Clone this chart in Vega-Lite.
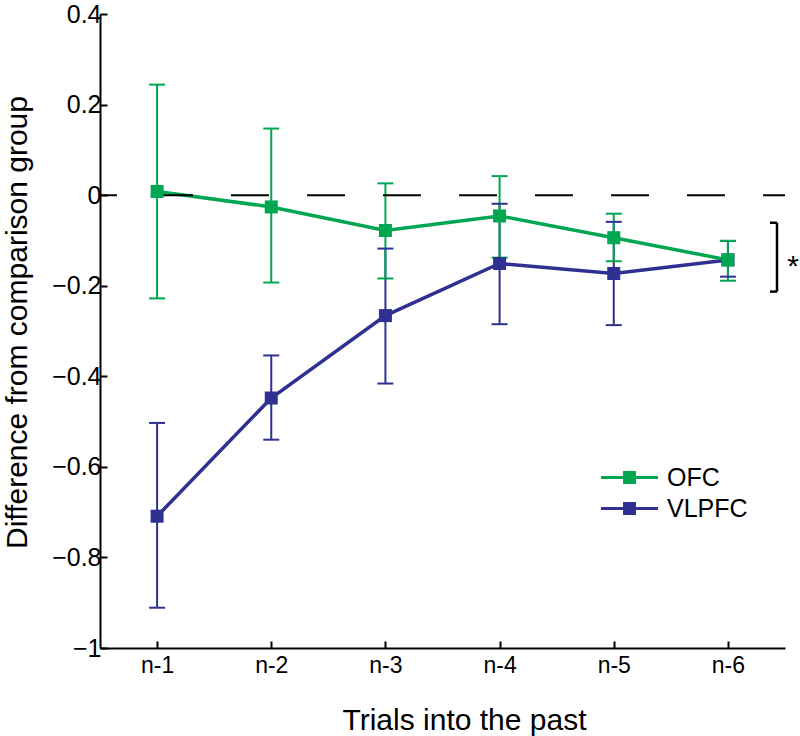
{
  "$schema": "https://vega.github.io/schema/vega-lite/v6.json",
  "width": 685,
  "height": 634,
  "autosize": "none",
  "padding": {"left": 100, "top": 14, "right": 15, "bottom": 88},
  "background": "white",
  "config": {"view": {"stroke": null}, "font": "Liberation Sans"},
  "datasets": {
    "series": [
      {"trial": 1, "group": "VLPFC", "mean": -0.709, "lo": -0.911, "hi": -0.503},
      {"trial": 2, "group": "VLPFC", "mean": -0.448, "lo": -0.540, "hi": -0.354},
      {"trial": 3, "group": "VLPFC", "mean": -0.266, "lo": -0.416, "hi": -0.118},
      {"trial": 4, "group": "VLPFC", "mean": -0.151, "lo": -0.285, "hi": -0.019},
      {"trial": 5, "group": "VLPFC", "mean": -0.173, "lo": -0.287, "hi": -0.059},
      {"trial": 6, "group": "VLPFC", "mean": -0.143, "lo": -0.180, "hi": -0.101},
      {"trial": 1, "group": "OFC", "mean": 0.008, "lo": -0.228, "hi": 0.244},
      {"trial": 2, "group": "OFC", "mean": -0.026, "lo": -0.193, "hi": 0.147},
      {"trial": 3, "group": "OFC", "mean": -0.078, "lo": -0.184, "hi": 0.026},
      {"trial": 4, "group": "OFC", "mean": -0.046, "lo": -0.138, "hi": 0.042},
      {"trial": 5, "group": "OFC", "mean": -0.094, "lo": -0.146, "hi": -0.041},
      {"trial": 6, "group": "OFC", "mean": -0.143, "lo": -0.189, "hi": -0.101}
    ],
    "bracket": [
      {"x": 6.43, "x2": 6.43, "y": -0.061, "y2": -0.213},
      {"x": 6.368, "x2": 6.43, "y": -0.061, "y2": -0.061},
      {"x": 6.368, "x2": 6.43, "y": -0.213, "y2": -0.213}
    ],
    "star": [{"x": 6.57, "y": -0.149, "label": "*"}]
  },
  "layer": [
    {
      "data": {"name": "series"},
      "mark": {"type": "rule", "strokeWidth": 2},
      "encoding": {
        "x": {"field": "trial", "type": "quantitative"},
        "y": {"field": "lo", "type": "quantitative"},
        "y2": {"field": "hi"},
        "color": {"field": "group", "type": "nominal"}
      }
    },
    {
      "data": {"name": "series"},
      "mark": {"type": "tick", "orient": "horizontal", "size": 16, "thickness": 2, "opacity": 1},
      "encoding": {
        "x": {"field": "trial", "type": "quantitative"},
        "y": {"field": "lo", "type": "quantitative"},
        "color": {"field": "group", "type": "nominal"}
      }
    },
    {
      "data": {"name": "series"},
      "mark": {"type": "tick", "orient": "horizontal", "size": 16, "thickness": 2, "opacity": 1},
      "encoding": {
        "x": {"field": "trial", "type": "quantitative"},
        "y": {"field": "hi", "type": "quantitative"},
        "color": {"field": "group", "type": "nominal"}
      }
    },
    {
      "data": {"name": "series"},
      "mark": {"type": "line", "strokeWidth": 3.5},
      "encoding": {
        "x": {"field": "trial", "type": "quantitative"},
        "y": {"field": "mean", "type": "quantitative"},
        "color": {"field": "group", "type": "nominal"},
        "order": {"field": "trial"}
      }
    },
    {
      "data": {"values": [{"zero": 0}]},
      "mark": {"type": "rule", "color": "black", "strokeWidth": 2, "strokeDash": [38, 38], "strokeDashOffset": 16},
      "encoding": {"y": {"field": "zero", "type": "quantitative"}}
    },
    {
      "data": {"name": "series"},
      "mark": {"type": "point", "shape": "square", "filled": true, "size": 169, "opacity": 1},
      "encoding": {
        "x": {
          "field": "trial", "type": "quantitative",
          "scale": {"domain": [0.5, 6.5], "nice": false, "zero": false},
          "axis": {
            "values": [1, 2, 3, 4, 5, 6],
            "labelExpr": "'n-' + datum.value",
            "grid": false,
            "domainColor": "black", "domainWidth": 2,
            "tickColor": "black", "tickWidth": 2, "tickSize": -7,
            "labelColor": "black", "labelFontSize": 23, "labelPadding": 13,
            "labelFont": "Liberation Sans",
            "title": "Trials into the past",
            "titleFont": "Liberation Sans", "titleFontSize": 30, "titleFontWeight": "normal",
            "titleColor": "black", "titlePadding": 28, "titleX": 364
          }
        },
        "y": {
          "field": "mean", "type": "quantitative",
          "scale": {"domain": [-1, 0.4], "nice": false, "zero": false},
          "axis": {
            "values": [-1, -0.8, -0.6, -0.4, -0.2, 0, 0.2, 0.4],
            "format": "~g",
            "grid": false,
            "domainColor": "black", "domainWidth": 2,
            "tickColor": "black", "tickWidth": 2, "tickSize": -7,
            "labelColor": "black", "labelFontSize": 25, "labelPadding": 6,
            "labelFont": "Liberation Sans",
            "title": "Difference from comparison group",
            "titleFont": "Liberation Sans", "titleFontSize": 30, "titleFontWeight": "normal",
            "titleColor": "black", "titleX": -68, "titleY": 308
          }
        },
        "color": {
          "field": "group", "type": "nominal",
          "scale": {"domain": ["OFC", "VLPFC"], "range": ["#00a651", "#2e3192"]},
          "legend": {
            "title": null,
            "orient": "none",
            "legendX": 513,
            "legendY": 447,
            "padding": 0,
            "symbolType": "M-1.9,0H1.9M-0.33,-0.33H0.33V0.33H-0.33Z",
            "symbolSize": 900,
            "symbolStrokeWidth": 3,
            "labelFontSize": 25,
            "labelFont": "Liberation Sans",
            "labelColor": "black",
            "labelOffset": 21,
            "rowPadding": 1,
            "encode": {
              "symbols": {
                "update": {
                  "fill": {"scale": "color", "field": "value"},
                  "stroke": {"scale": "color", "field": "value"},
                  "opacity": {"value": 1}
                }
              }
            }
          }
        }
      }
    },
    {
      "data": {"name": "bracket"},
      "mark": {"type": "rule", "color": "black", "strokeWidth": 2.5},
      "encoding": {
        "x": {"field": "x", "type": "quantitative"},
        "x2": {"field": "x2"},
        "y": {"field": "y", "type": "quantitative"},
        "y2": {"field": "y2"}
      }
    },
    {
      "data": {"name": "star"},
      "mark": {"type": "text", "fontSize": 30, "font": "Liberation Sans", "color": "black", "baseline": "middle", "align": "center", "dy": 4},
      "encoding": {
        "x": {"field": "x", "type": "quantitative"},
        "y": {"field": "y", "type": "quantitative"},
        "text": {"field": "label"}
      }
    }
  ]
}
